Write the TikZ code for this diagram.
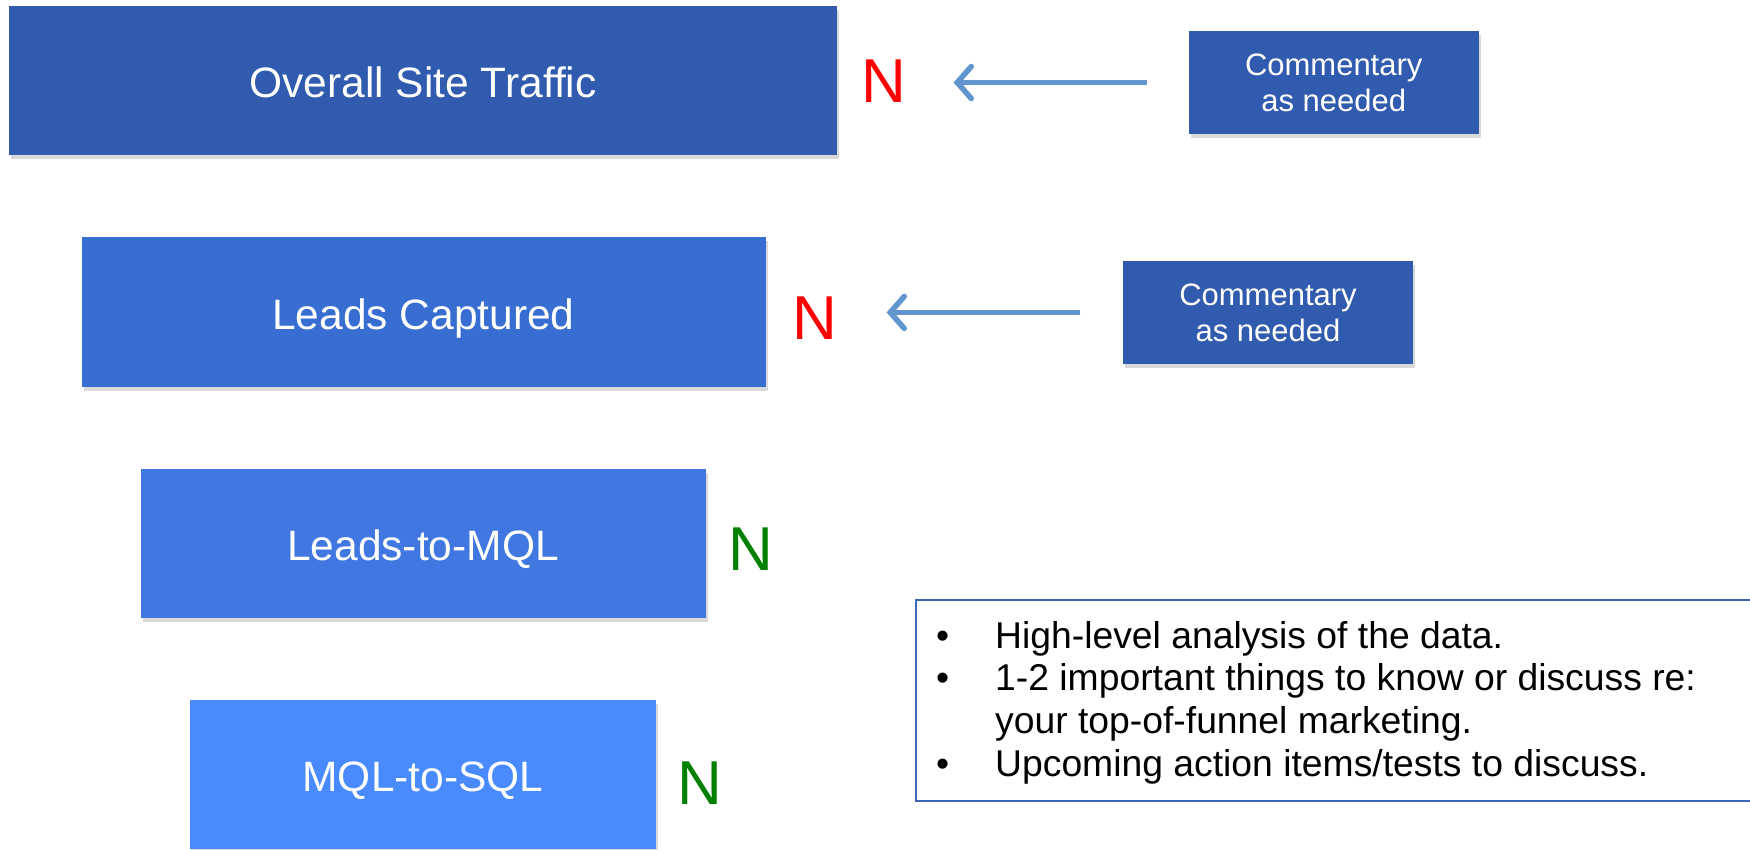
\documentclass[tikz,border=0pt]{standalone}
\usepackage{fontspec}
\setmainfont{Liberation Sans}
\usetikzlibrary{arrows.meta,shadows}
\definecolor{boxA}{RGB}{48,91,174}
\definecolor{boxB}{RGB}{56,110,210}
\definecolor{boxC}{RGB}{65,119,224}
\definecolor{boxD}{RGB}{74,138,255}
\definecolor{arrowc}{RGB}{96,150,205}
\definecolor{frame}{RGB}{62,102,182}
\definecolor{redN}{RGB}{255,0,0}
\definecolor{greenN}{RGB}{0,128,0}
\tikzset{
  stage/.style={rectangle, inner sep=0pt, text=white,
    text height=34pt, text depth=0pt,
    font=\fontsize{42.5}{48}\selectfont,
    drop shadow={opacity=0.3, shadow xshift=2pt, shadow yshift=-4pt}},
  comment/.style={rectangle, inner sep=0pt, fill=boxA, text=white, align=center,
    minimum width=290pt, minimum height=102.7pt,
    font=\fontsize{31}{36}\selectfont,
    drop shadow={opacity=0.3, shadow xshift=2pt, shadow yshift=-4pt}},
  flag/.style={inner sep=0pt, font=\fontsize{62}{70}\selectfont},
  pointer/.style={draw=arrowc, line width=5pt,
    -{Straight Barb[length=14pt,width=32pt,line width=5.5pt,line cap=round]}}
}
\begin{document}
\begin{tikzpicture}[x=1pt,y=-1pt]
\useasboundingbox (0,0) rectangle (1750,849);
\clip (0,0) rectangle (1750,849);
% funnel stages
\node[stage, fill=boxA, minimum width=828pt, minimum height=149pt] (s1) at (423,80.5) {Overall Site Traffic};
\node[stage, fill=boxB, minimum width=684pt, minimum height=150pt] (s2) at (423.5,312) {Leads Captured};
\node[stage, fill=boxC, minimum width=565pt, minimum height=149.5pt] (s3) at (423,543.5) {Leads-to-MQL};
\node[stage, fill=boxD, minimum width=466.6pt, minimum height=149.2pt] (s4) at (423,774.4) {MQL-to-SQL};
% flags
\node[flag, text=redN] (n1) at (884,81.5) {N};
\node[flag, text=redN] (n2) at (815,318) {N};
\node[flag, text=greenN] (n3) at (751,549) {N};
\node[flag, text=greenN] (n4) at (700,783) {N};
% commentary
\node[comment] (c1) at (1333.7,82.5) {Commentary\\as needed};
\node[comment] (c2) at (1268,312.4) {Commentary\\as needed};
\draw[pointer, shorten <=41.6pt, shorten >=47pt] (c1.west) -- (n1.east |- c1.west);
\draw[pointer, shorten <=42.8pt, shorten >=49pt] (c2.west) -- (n2.east |- c2.west);
% notes box
\node[draw=frame, line width=2pt, rectangle, inner sep=0pt,
  minimum width=850pt, minimum height=201pt, anchor=north west] (notebox) at (915,599) {};
\node[anchor=north west, inner sep=0pt, align=left,
  font=\fontsize{37.3}{42.6}\selectfont] (notes) at (936,621)
  {\makebox[59pt][l]{•}High-level analysis of the data.\\
   \makebox[59pt][l]{•}1-2 important things to know or discuss re:\\
   \hspace*{59pt}your top-of-funnel marketing.\\
   \makebox[59pt][l]{•}Upcoming action items/tests to discuss.};
\end{tikzpicture}
\end{document}
